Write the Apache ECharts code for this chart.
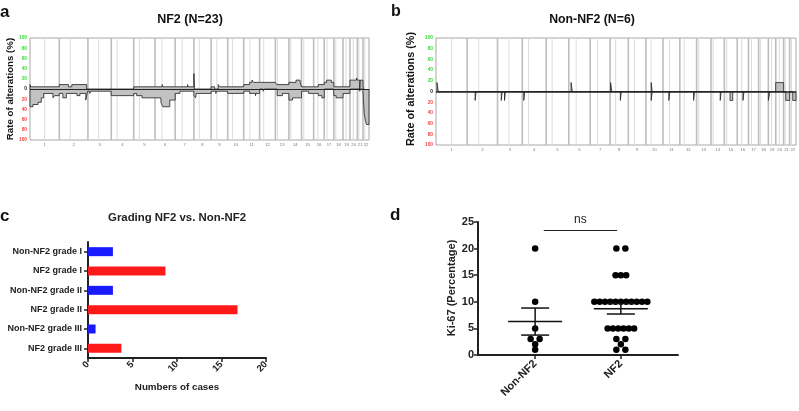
<!DOCTYPE html>
<html>
<head>
<meta charset="utf-8">
<script src="https://cdn.jsdelivr.net/npm/echarts@6/dist/echarts.min.js"></script>
<style>
html,body{margin:0;padding:0;background:#fff;}
#chart{width:799px;height:411px;}
</style>
</head>
<body>
<div id="chart"></div>
<script>
// ---------- DATA ----------
// chromosome sizes (Mb) and centromere positions (Mb), chr1..chr22
const chromLengths = [249,243,198,191,181,171,159,146,141,136,135,134,115,107,103,90,81,78,59,63,48,51];
const centromeres  = [125,93,91,50,48,59,59,45,49,40,53,35,17,17,19,36,24,17,26,28,13,15];
const chromNames   = ['1','2','3','4','5','6','7','8','9','10','11','12','13','14','15','16','17','18','19','20','21','22'];
const yTicksCNV    = [-100,-80,-60,-40,-20,0,20,40,60,80,100];

// NF2 (N=23): [chromosome, start Mb, end Mb, % of cases]
const gainsNF2 = [
  [1,0,5,8.7],[1,5,249,4.3],
  [2,0,77,8.7],[2,77,106,4.3],[2,106,232,8.7],
  [5,0,181,4.3],
  [6,0,60,4.3],[6,60,66,8.7],[6,66,171,4.3],
  [7,0,105,4.3],[7,105,112,8.7],[7,112,159,4.3],
  [8,0,4,30.4],
  [9,0,30,4.3],[9,60,75,8.7],[9,75,141,4.3],
  [10,0,136,4.3],
  [11,0,50,8.7],[11,50,70,13],[11,70,85,17.4],[11,85,135,13],
  [12,0,134,13],
  [13,0,12,13],[13,12,115,8.7],
  [14,0,60,13],[14,60,95,17.4],[14,95,107,13],
  [15,0,103,4.3],
  [16,0,40,4.3],[16,40,90,8.7],
  [17,0,20,13],[17,20,60,17.4],[17,60,81,13],
  [18,0,78,4.3],
  [19,0,59,4.3],
  [20,0,55,17.4],[20,55,63,21.7],
  [21,0,20,17.4],[21,25,48,17.4],
  [22,0,8,4.3]
];
const lossesNF2 = [
  [1,0,25,-34.8],[1,25,68,-30.4],[1,68,96,-26],[1,96,116,-17.4],[1,116,195,-8.7],[1,195,210,-17.4],[1,210,249,-13],
  [2,0,30,-8.7],[2,30,60,-17.4],[2,60,150,-8.7],[2,150,175,-13],[2,175,225,-8.7],[2,225,240,-21.7],[2,240,243,-4.3],
  [3,0,15,-4.3],[3,15,25,-8.7],[3,25,198,-4.3],
  [4,0,191,-13],
  [5,0,25,-8.7],[5,25,70,-13],[5,70,181,-17.4],
  [6,0,50,-17.4],[6,50,65,-26],[6,65,125,-34.8],[6,125,171,-21.7],
  [7,0,40,-8.7],[7,40,159,-4.3],
  [8,0,15,-13],[8,15,20,-17.4],[8,20,146,-8.7],
  [9,0,40,-4.3],[9,40,45,-8.7],[9,45,141,-4.3],
  [10,0,136,-8.7],
  [11,0,50,-4.3],[11,50,100,-8.7],[11,100,105,-13],[11,105,135,-8.7],
  [12,30,40,-4.3],
  [13,15,60,-13],[13,60,115,-8.7],
  [14,0,30,-21.7],[14,30,107,-17.4],
  [15,0,60,-4.3],[15,60,103,-8.7],
  [16,0,40,-8.7],[16,40,70,-13],[16,70,90,-17.4],
  [18,0,20,-13],[18,20,78,-17.4],
  [19,0,59,-8.7],
  [21,20,25,-4.3],
  [22,0,10,-4.3],[22,10,20,-47.8],[22,20,30,-60.9],[22,30,51,-69.6]
];
// Non-NF2 (N=6)
const gainsNonNF2 = [
  [1,8,18,16.7],[6,18,28,16.7],[8,4,14,16.7],[10,42,50,16.7],[20,0,63,16.7]
];
const lossesNonNF2 = [
  [2,64,72,-16.7],[3,30,37,-16.7],[3,56,63,-16.7],[4,12,20,-16.7],[8,82,90,-16.7],
  [10,42,50,-16.7],[11,47,55,-16.7],[12,110,118,-16.7],[14,74,82,-16.7],[15,45,67,-16.7],
  [16,46,54,-16.7],[19,0,12,-16.7],[21,17,48,-16.7],[22,25,51,-16.7]
];

// Panel c
const gradeCategories = ['Non-NF2 grade I','NF2 grade I','Non-NF2 grade II','NF2 grade II','Non-NF2 grade III','NF2 grade III'];
const gradeCounts     = [2.8, 8.7, 2.8, 16.8, 0.85, 3.75];
const gradeGroups     = ['Non-NF2','NF2','Non-NF2','NF2','Non-NF2','NF2'];
const gradeTicks      = [0,5,10,15,20];

// Panel d
const ki67Groups = ['Non-NF2','NF2'];
const ki67NonNF2 = [20,10,5,3,3,2,1];
const ki67NF2    = [20,20,15,15,15,10,10,10,10,10,10,10,10,10,10,10,5,5,5,5,5,5,3,3,2,1,1];
const ki67Ticks  = [0,5,10,15,20,25];

// ---------- BUILD ----------
const offsets = []; let acc = 0;
chromLengths.forEach(l => { offsets.push(acc); acc += l; });
const genomeLen = acc;
const mids = chromLengths.map((l,i) => offsets[i] + l/2);
const chromLineData = [];
offsets.forEach((o,i) => { if (i>0) chromLineData.push([o,0]); });
centromeres.forEach((c,i) => chromLineData.push([offsets[i]+c,1]));

function toPoints(segs){
  const pts = []; let last = null;
  segs.forEach(([c,s,e,v]) => {
    const gs = offsets[c-1]+s, ge = offsets[c-1]+e;
    if (last === null || gs > last + 1e-9){
      if (last !== null) pts.push([last,0]);
      pts.push([gs,0]);
    }
    pts.push([gs,v],[ge,v]);
    last = ge;
  });
  pts.push([last,0]);
  return pts;
}

const FONT = '"Liberation Sans", Arial, sans-serif';
const COL_GREEN = '#3ad83a', COL_RED = '#ff3c3c';

function cnvAxes(gi, fs){
  return {
    x: {gridIndex:gi, type:'value', min:0, max:genomeLen,
        axisLine:{show:false}, axisTick:{show:false}, splitLine:{show:false},
        axisLabel:{customValues:mids, formatter:(v)=>{const i=mids.findIndex(m=>Math.abs(m-v)<1e-6);return i>=0?chromNames[i]:'';},
                   fontSize:4.2, color:'#777', margin:3, fontFamily:FONT}},
    y: {gridIndex:gi, type:'value', min:-100, max:100, interval:20,
        axisLine:{show:false}, axisTick:{show:false}, splitLine:{show:false},
        axisLabel:{formatter:(v)=>String(Math.abs(v)), fontSize:fs, fontWeight:'bold', margin:3, fontFamily:FONT,
                   color:(v)=>{v=Number(v);return v>0?COL_GREEN:(v<0?COL_RED:'#111');}}}
  };
}
const axA = cnvAxes(0,4.8), axB = cnvAxes(1,4.8);

function chromLinesSeries(ai){
  return {type:'custom', xAxisIndex:ai, yAxisIndex:ai, silent:true, z:1,
    encode:{x:0,y:-1}, data:chromLineData,
    renderItem:(params, api)=>{
      const x=api.value(0), kind=api.value(1);
      const p1=api.coord([x,100]), p2=api.coord([x,-100]);
      return {type:'line', shape:{x1:p1[0],y1:p1[1],x2:p2[0],y2:p2[1]},
              style:{stroke: kind? '#dcdcdc':'#bdbdbd', lineWidth: kind?1:1.6}};
    }};
}
function profileSeries(ai, segs, zeroWidth){
  const s = {type:'line', xAxisIndex:ai, yAxisIndex:ai, data:toPoints(segs), showSymbol:false, silent:true, z:3,
    lineStyle:{color:'#222', width:0.8}, areaStyle:{color:'#c2c2c2', opacity:1, origin:'auto'}};
  if (zeroWidth){
    s.markLine = {silent:true, symbol:'none', label:{show:false}, animation:false,
      lineStyle:{color:'#222', width:zeroWidth, type:'solid'}, data:[{yAxis:0}]};
  }
  return s;
}

// Panel d helpers
const unitsPerPx = 7/200;
const groupPos = [2,5];
function swarm(values, center){
  const counts = {}, seen = {};
  values.forEach(v => counts[v] = (counts[v]||0)+1);
  return values.map(v => {
    const n = counts[v]; const i = (seen[v] = (seen[v]||0)) ; seen[v]++;
    const sp = n===2 ? 9 : 5.3;
    return [center + (i-(n-1)/2)*sp*unitsPerPx, v];
  });
}
function meanSem(arr){
  const n=arr.length, m=arr.reduce((a,b)=>a+b,0)/n;
  const sd=Math.sqrt(arr.reduce((a,b)=>a+(b-m)*(b-m),0)/(n-1));
  return [m, sd/Math.sqrt(n)];
}
const msNon = meanSem(ki67NonNF2), msNF2 = meanSem(ki67NF2);
const statsData = [[groupPos[0], msNon[0], msNon[1]], [groupPos[1], msNF2[0], msNF2[1]]];

const option = {
  animation:false,
  textStyle:{fontFamily:FONT},
  grid:[
    {left:30, top:38, width:339, height:102, show:true, borderColor:'#a8a8a8', borderWidth:1},
    {left:436, top:38, width:360, height:107, show:true, borderColor:'#a8a8a8', borderWidth:1},
    {left:88, top:242, width:178, height:116},
    {left:478, top:222, width:200, height:133}
  ],
  xAxis:[
    axA.x, axB.x,
    {gridIndex:2, type:'value', min:0, max:20, interval:5,
     axisLine:{show:true, lineStyle:{color:'#222', width:2}}, axisTick:{show:true, length:4, lineStyle:{width:1.5,color:'#222'}},
     splitLine:{show:false},
     axisLabel:{rotate:45, fontSize:9.5, fontWeight:'bold', color:'#222', margin:5}},
    {gridIndex:3, type:'value', min:0, max:7,
     axisLine:{show:true, lineStyle:{color:'#222', width:2}},
     axisTick:{show:true, customValues:groupPos, length:4, lineStyle:{width:1.5,color:'#222'}},
     splitLine:{show:false},
     axisLabel:{customValues:groupPos, formatter:(v)=>ki67Groups[groupPos.indexOf(Number(v))]||'',
                rotate:45, fontSize:11, fontWeight:'bold', color:'#222', margin:7}}
  ],
  yAxis:[
    axA.y, axB.y,
    {gridIndex:2, type:'category', inverse:true, data:gradeCategories,
     axisLine:{show:true, lineStyle:{color:'#222', width:2}},
     axisTick:{show:true, alignWithLabel:true, length:4, lineStyle:{width:1.5,color:'#222'}},
     axisLabel:{fontSize:9, fontWeight:'bold', color:'#222', margin:6}},
    {gridIndex:3, type:'value', min:0, max:25, interval:5,
     axisLine:{show:true, lineStyle:{color:'#222', width:2}},
     axisTick:{show:true, length:4, lineStyle:{width:1.5,color:'#222'}},
     splitLine:{show:false},
     axisLabel:{fontSize:11, fontWeight:'bold', color:'#222', margin:4}}
  ],
  series:[
    chromLinesSeries(0),
    profileSeries(0, gainsNF2, 1.1),
    profileSeries(0, lossesNF2, 0),
    chromLinesSeries(1),
    profileSeries(1, gainsNonNF2, 1.6),
    profileSeries(1, lossesNonNF2, 0),
    {type:'bar', xAxisIndex:2, yAxisIndex:2, barWidth:9,
     data: gradeCounts.map((v,i)=>({value:v, itemStyle:{color: gradeGroups[i]==='NF2' ? '#ff1a1a' : '#1a1aff'}}))},
    {type:'scatter', xAxisIndex:3, yAxisIndex:3, symbolSize:6.5, itemStyle:{color:'#000', opacity:1},
     data: swarm(ki67NonNF2, groupPos[0]).concat(swarm(ki67NF2, groupPos[1])),
     markLine:{silent:true, symbol:'none', animation:false,
       lineStyle:{color:'#222', width:1.2, type:'solid'},
       label:{show:true, position:'middle', formatter:'ns', fontSize:12, color:'#222', distance:4},
       data:[[{coord:[2.3,23.5]},{coord:[4.87,23.5]}]]}},
    {type:'custom', xAxisIndex:3, yAxisIndex:3, silent:true, z:5, encode:{x:0,y:1}, data:statsData,
     renderItem:(params, api)=>{
       const x=api.value(0), m=api.value(1), se=api.value(2);
       const pm=api.coord([x,m]), pu=api.coord([x,m+se]), pl=api.coord([x,m-se]);
       const st={stroke:'#111', lineWidth:1.5};
       return {type:'group', children:[
         {type:'line', shape:{x1:pm[0]-27,y1:pm[1],x2:pm[0]+27,y2:pm[1]}, style:st},
         {type:'line', shape:{x1:pu[0]-14,y1:pu[1],x2:pu[0]+14,y2:pu[1]}, style:st},
         {type:'line', shape:{x1:pl[0]-14,y1:pl[1],x2:pl[0]+14,y2:pl[1]}, style:st},
         {type:'line', shape:{x1:pu[0],y1:pu[1],x2:pl[0],y2:pl[1]}, style:st}
       ]};
     }}
  ],
  graphic:[
    {type:'text', x:0, y:12, style:{text:'a', font:'bold 17px '+FONT, fill:'#111', verticalAlign:'middle'}},
    {type:'text', x:391, y:12, style:{text:'b', font:'bold 16px '+FONT, fill:'#111', verticalAlign:'middle'}},
    {type:'text', x:0, y:216, style:{text:'c', font:'bold 17px '+FONT, fill:'#111', verticalAlign:'middle'}},
    {type:'text', x:390, y:215, style:{text:'d', font:'bold 17px '+FONT, fill:'#111', verticalAlign:'middle'}},
    {type:'text', x:190, y:20, style:{text:'NF2 (N=23)', font:'bold 12.5px '+FONT, fill:'#111', align:'center', verticalAlign:'middle'}},
    {type:'text', x:592, y:20, style:{text:'Non-NF2 (N=6)', font:'bold 12.3px '+FONT, fill:'#111', align:'center', verticalAlign:'middle'}},
    {type:'text', x:10, y:89, rotation:Math.PI/2, style:{text:'Rate of alterations (%)', font:'bold 9.7px '+FONT, fill:'#111', align:'center', verticalAlign:'middle'}},
    {type:'text', x:411.5, y:89, rotation:Math.PI/2, style:{text:'Rate of alterations (%)', font:'bold 10.8px '+FONT, fill:'#111', align:'center', verticalAlign:'middle'}},
    {type:'text', x:177, y:218, style:{text:'Grading NF2 vs. Non-NF2', font:'bold 11.4px '+FONT, fill:'#222', align:'center', verticalAlign:'middle'}},
    {type:'text', x:177, y:387, style:{text:'Numbers of cases', font:'bold 9.8px '+FONT, fill:'#222', align:'center', verticalAlign:'middle'}},
    {type:'text', x:452, y:288, rotation:Math.PI/2, style:{text:'Ki-67 (Percentage)', font:'bold 11px '+FONT, fill:'#222', align:'center', verticalAlign:'middle'}}
  ]
};

const chart = echarts.init(document.getElementById('chart'), null, {renderer:'canvas'});
chart.setOption(option);
</script>
</body>
</html>
